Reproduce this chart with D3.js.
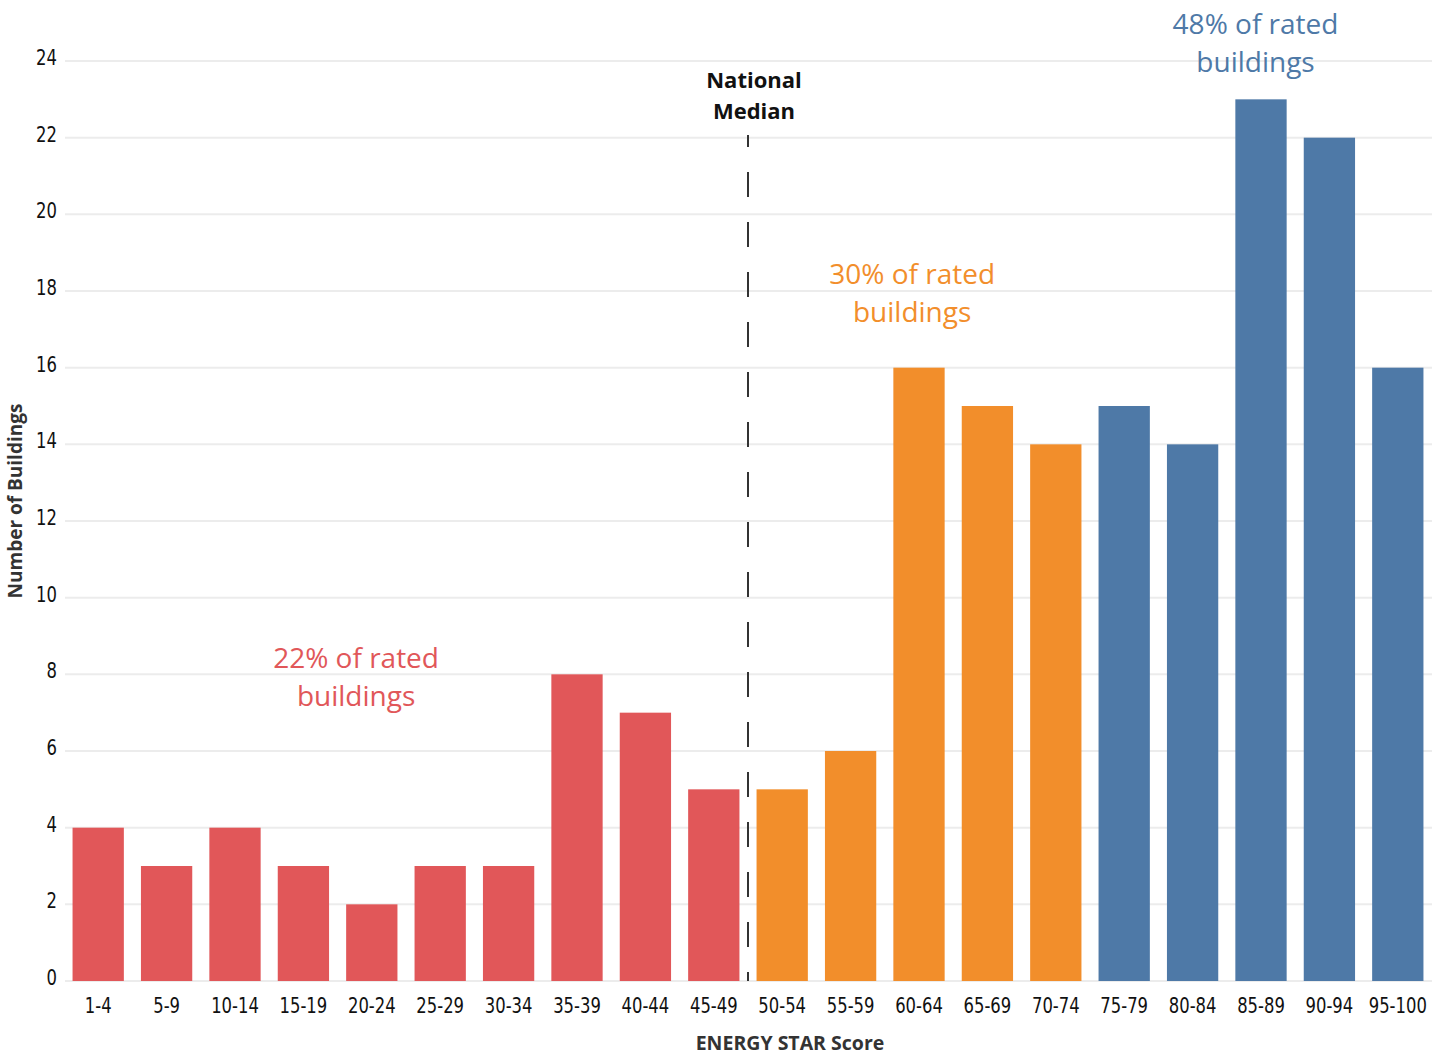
<!DOCTYPE html>
<html>
<head>
<meta charset="utf-8">
<script src="https://cdn.jsdelivr.net/npm/d3@7"></script>
<style>
  body { margin: 0; background: #fff; }
  svg { display: block; }
</style>
</head>
<body>
<div id="chart"></div>
<script>
// score bands and building counts
var categories = ["1-4","5-9","10-14","15-19","20-24","25-29","30-34","35-39","40-44","45-49",
                  "50-54","55-59","60-64","65-69","70-74","75-79","80-84","85-89","90-94","95-100"];
var counts = [4,3,4,3,2,3,3,8,7,5,5,6,16,15,14,15,14,23,22,16];
var groups = ["low","low","low","low","low","low","low","low","low","low",
              "mid","mid","mid","mid","mid","high","high","high","high","high"];
var yTicks = [0,2,4,6,8,10,12,14,16,18,20,22,24];
var noteGroups = ["low", "mid", "high"];
var noteLines = [["22% of rated", "buildings"], ["30% of rated", "buildings"], ["48% of rated", "buildings"]];

var width = 1445, height = 1057;
var colors = {low: "#e15759", mid: "#f28e2b", high: "#4e79a7"};
var condensed = "'DejaVu Sans Condensed', sans-serif";
var squeeze = 0.83; // narrow the condensed labels a bit more
// where each note sits: band position (in steps from first band) and value on y
var notePos = [{at: 3.77, v: 8.17}, {at: 11.9, v: 18.18}, {at: 16.92, v: 24.7}];

var svg = d3.select("#chart").append("svg")
    .attr("width", width)
    .attr("height", height);

var x = d3.scaleBand()
    .domain(categories)
    .range([64, 1432])
    .paddingInner(0.25)
    .paddingOuter(0.125);

var y = d3.scaleLinear()
    .domain([0, 24])
    .range([981, 61]);

// gridlines
svg.append("g").selectAll("line")
    .data(yTicks)
    .enter().append("line")
    .attr("x1", 65).attr("x2", 1432)
    .attr("y1", d => y(d)).attr("y2", d => y(d))
    .attr("stroke", "#ececec")
    .attr("stroke-width", 2);

// y tick labels
svg.append("g").selectAll("text")
    .data(yTicks)
    .enter().append("text")
    .attr("transform", d => "translate(57," + (y(d) + 4) + ") scale(" + squeeze + ",1)")
    .attr("text-anchor", "end")
    .style("font-family", condensed)
    .style("font-size", "22px")
    .attr("fill", "#111")
    .text(d => d);

// bars
svg.append("g").selectAll("rect")
    .data(counts)
    .enter().append("rect")
    .attr("x", (d, i) => x(categories[i]))
    .attr("width", x.bandwidth())
    .attr("y", d => y(d))
    .attr("height", d => y(0) - y(d))
    .attr("fill", (d, i) => colors[groups[i]]);

// x tick labels
svg.append("g").selectAll("text")
    .data(categories)
    .enter().append("text")
    .attr("transform", d => "translate(" + (x(d) + x.bandwidth() / 2) + ",1013) scale(" + squeeze + ",1)")
    .attr("text-anchor", "middle")
    .style("font-family", condensed)
    .style("font-size", "22px")
    .attr("fill", "#111")
    .text(d => d);

// national median line, between 45-49 and 50-54
var medX = (x("45-49") + x.bandwidth() + x("50-54")) / 2;
svg.append("line")
    .attr("x1", medX).attr("x2", medX)
    .attr("y1", 135).attr("y2", y(0))
    .attr("stroke", "#333")
    .attr("stroke-width", 2)
    .attr("stroke-dasharray", "25,25")
    .attr("stroke-dashoffset", 13);

svg.append("text")
    .attr("text-anchor", "middle")
    .style("font-family", "'Open Sans', sans-serif")
    .style("font-weight", "bold")
    .style("font-size", "22px")
    .attr("fill", "#111")
    .selectAll("tspan")
    .data(["National", "Median"])
    .enter().append("tspan")
    .attr("x", medX + 6)
    .attr("y", (d, i) => 88 + i * 31)
    .text(d => d);

// group annotations
noteGroups.forEach(function(g, k) {
    var cx = x(categories[0]) + x.bandwidth() / 2 + notePos[k].at * x.step();
    svg.append("text")
        .attr("text-anchor", "middle")
        .style("font-family", "'Open Sans', sans-serif")
        .style("font-size", "28px")
        .attr("fill", colors[g])
        .selectAll("tspan")
        .data(noteLines[k])
        .enter().append("tspan")
        .attr("x", cx)
        .attr("y", (d, i) => y(notePos[k].v) + i * 38)
        .text(d => d);
});

// axis titles
svg.append("text")
    .attr("x", 790)
    .attr("y", 1050)
    .attr("text-anchor", "middle")
    .style("font-family", "'Open Sans', sans-serif")
    .style("font-weight", "bold")
    .style("font-size", "19.5px")
    .attr("fill", "#333")
    .text("ENERGY STAR Score");

svg.append("text")
    .attr("transform", "translate(22,501) rotate(-90)")
    .attr("text-anchor", "middle")
    .style("font-family", "'Open Sans', sans-serif")
    .style("font-weight", "bold")
    .style("font-size", "19px")
    .attr("fill", "#333")
    .text("Number of Buildings");
</script>
</body>
</html>
